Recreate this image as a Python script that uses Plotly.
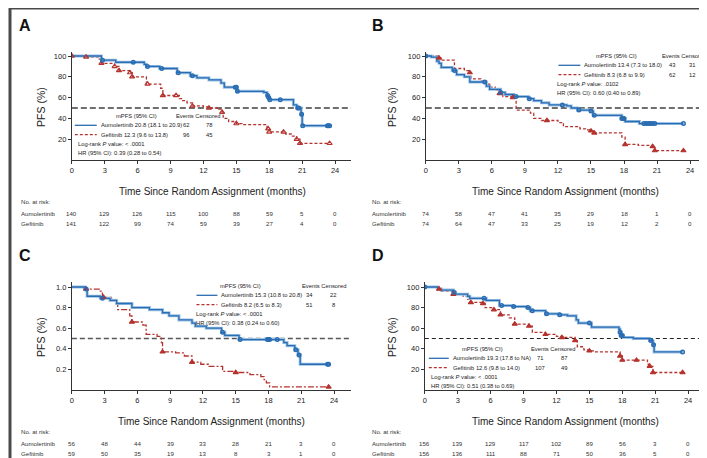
import plotly.graph_objects as go

W, H = 707, 458
BLUE = "#2a6db2"
BLUE_LIGHT = "#9cc2e5"
RED = "#b5332e"
TXT = "#222222"
FONT = "Liberation Sans, Arial, sans-serif"

month_ticks = [0, 3, 6, 9, 12, 15, 18, 21, 24]
pct_ticks = [20, 40, 60, 80, 100]
frac_ticks = [0.2, 0.4, 0.6, 0.8, 1.0]
frac_labels = ["0.2", "0.4", "0.6", "0.8", "1.0"]

# ---------------- Panel A ----------------
a_aum_t = [0, 2.7, 4.0, 6.6, 6.8, 8.0, 9.6, 10.8, 11.4, 12.5, 13.6, 13.9, 15.05, 17.5, 17.8, 17.9, 18.0, 20.2, 20.5, 20.9, 21.0, 23.5]
a_aum_s = [100, 96, 94, 92, 90, 88, 84, 81, 79, 77, 74, 70, 66, 65, 62, 60, 58, 53, 50, 44, 33, 33]
a_aum_c = [2.8, 5.6, 6.9, 8.2, 9.7, 11.0, 14.9, 15.0, 15.1, 17.85, 17.95, 18.05, 19.0, 20.6, 20.7, 20.95, 21.05, 23.3, 23.4, 23.5]
a_gef_t = [0, 1.3, 2.5, 2.7, 3.9, 4.3, 5.3, 5.5, 6.8, 8.1, 8.3, 9.8, 10.0, 10.5, 11.0, 12.0, 12.5, 13.4, 13.7, 13.8, 14.3, 15.0, 15.5, 17.8, 18.0, 19.5, 20.0, 20.5, 20.8, 23.5]
a_gef_s = [100, 99, 97, 93, 90, 86, 84, 80, 73, 69, 62, 59, 57, 55, 52, 51, 50, 49, 46, 40, 37, 35, 34, 30, 27, 25, 23, 20, 16, 16]
a_gef_c = [0, 1.3, 2.7, 3.9, 4.3, 5.3, 5.5, 6.9, 8.3, 9.5, 11.0, 12.5, 13.7, 15.0, 17.9, 18.0, 19.3, 20.5, 20.8, 23.5]
a_risk_aum = [140, 129, 126, 115, 100, 88, 59, 5, 0]
a_risk_gef = [141, 122, 99, 74, 59, 39, 27, 4, 0]
a_aum_legend = ["Aumolertinib 20.8 (18.1 to 20.9)", "62", "78"]
a_gef_legend = ["Gefitinib 12.3 (9.6 to 13.8)", "96", "45"]
a_stats = ["Log-rank <i>P</i> value: < .0001", "HR (95% CI): 0.39 (0.28 to 0.54)"]

# ---------------- Panel B ----------------
b_aum_t = [0, 0.5, 1.0, 1.2, 1.4, 2.4, 2.8, 3.5, 4.0, 5.5, 5.8, 6.8, 7.2, 8.0, 9.3, 9.8, 10.5, 11.2, 12.8, 13.2, 13.8, 15.0, 15.2, 17.8, 18.1, 19.4, 23.4]
b_aum_s = [100, 99, 95, 93, 89, 86, 82, 80, 75, 71, 68, 65, 63, 61, 59, 57, 55, 53, 52, 50, 48, 47, 43, 40, 37, 35, 35]
b_aum_c = [0, 2.6, 5.35, 6.8, 8.2, 9.4, 12.4, 13.9, 15.0, 15.3, 17.8, 17.9, 18.0, 19.8, 20.0, 20.2, 20.4, 20.6, 20.8, 23.4]
b_gef_t = [0, 1.2, 1.5, 2.6, 3.5, 4.0, 4.1, 5.0, 5.5, 5.8, 6.3, 6.7, 7.0, 7.8, 8.2, 9.5, 9.8, 10.5, 12.0, 12.5, 14.0, 14.5, 15.0, 15.2, 17.8, 18.1, 19.3, 20.6, 20.8, 23.4]
b_gef_s = [100, 98, 96, 88, 86, 84, 78, 76, 73, 70, 67, 64, 61, 60, 48, 45, 40, 38, 36, 32, 30, 29, 28, 26, 22, 15, 14, 13, 9, 9]
b_gef_c = [1.2, 4.0, 6.7, 7.9, 11.0, 15.0, 15.3, 18.1, 20.6, 20.8, 23.4]
b_risk_aum = [74, 58, 47, 41, 35, 29, 18, 1, 0]
b_risk_gef = [74, 64, 47, 33, 25, 19, 12, 2, 0]
b_aum_legend = ["Aumolertinib 13.4 (7.3 to 18.0)", "43", "31"]
b_gef_legend = ["Gefitinib 8.3 (6.8 to 9.9)", "62", "12"]
b_stats = ["Log-rank <i>P</i> value: .0102", "HR (95% CI): 0.60 (0.40 to 0.89)"]

# ---------------- Panel C ----------------
c_aum_t = [0, 1.2, 1.4, 2.6, 3.5, 4.1, 5.5, 7.1, 8.3, 8.9, 9.8, 11.0, 11.3, 12.3, 13.7, 14.0, 15.3, 19.4, 19.7, 20.4, 20.7, 20.9, 23.5]
c_aum_s = [1.0, 0.98, 0.91, 0.89, 0.87, 0.84, 0.80, 0.78, 0.75, 0.72, 0.68, 0.65, 0.62, 0.60, 0.56, 0.53, 0.49, 0.46, 0.43, 0.39, 0.34, 0.25, 0.25]
c_aum_c = [1.3, 2.8, 13.8, 15.4, 17.9, 18.0, 18.1, 18.8, 20.5, 20.8, 23.4, 23.5]
c_gef_t = [0, 1.2, 2.5, 2.8, 3.6, 4.0, 4.2, 5.3, 5.5, 6.5, 6.8, 7.8, 8.2, 8.3, 9.5, 10.3, 11.0, 11.8, 12.5, 13.8, 15.0, 16.3, 17.3, 17.6, 17.8, 18.1, 23.5]
c_gef_s = [1.0, 0.98, 0.96, 0.90, 0.88, 0.84, 0.78, 0.72, 0.66, 0.63, 0.54, 0.52, 0.46, 0.37, 0.36, 0.33, 0.27, 0.25, 0.23, 0.18, 0.17, 0.15, 0.13, 0.10, 0.07, 0.03, 0.03]
c_gef_c = [1.3, 2.9, 5.5, 8.3, 11.0, 15.0, 23.5]
c_risk_aum = [56, 48, 44, 39, 33, 28, 21, 3, 0]
c_risk_gef = [59, 50, 35, 19, 13, 8, 3, 1, 0]
c_aum_legend = ["Aumolertinib 15.3 (10.8 to 20.8)", "34", "22"]
c_gef_legend = ["Gefitinib 8.2 (6.5 to 8.3)", "51", "8"]
c_stats = ["Log-rank <i>P</i> value: < .0001", "HR (95% CI): 0.38 (0.24 to 0.60)"]

# ---------------- Panel D ----------------
d_aum_t = [0, 1.2, 1.5, 2.6, 2.8, 3.9, 4.1, 5.6, 6.8, 8.0, 9.3, 9.6, 11.0, 12.2, 13.0, 13.8, 14.0, 15.2, 17.7, 17.8, 17.9, 18.1, 19.0, 20.5, 20.8, 20.9, 23.5]
d_aum_s = [100, 98, 97, 95, 93, 91, 89, 87, 82, 81, 80, 77, 74, 73, 72, 68, 65, 61, 59, 56, 53, 51, 50, 48, 44, 37, 37]
d_aum_c = [0, 2.65, 5.4, 7.0, 8.1, 9.4, 9.8, 11.1, 12.3, 15.0, 17.8, 17.9, 18.0, 20.6, 20.85, 23.5]
d_gef_t = [0, 1.3, 1.5, 2.6, 3.5, 3.9, 4.2, 5.3, 5.5, 6.3, 6.9, 7.7, 8.2, 9.5, 9.8, 11.0, 12.0, 12.5, 13.7, 13.9, 14.5, 15.0, 15.5, 17.8, 18.0, 20.3, 20.5, 20.8, 23.5]
d_gef_s = [100, 98, 96, 93, 91, 88, 85, 84, 80, 78, 73, 70, 64, 62, 56, 54, 52, 51, 48, 42, 39, 38, 37, 33, 29, 25, 23, 17, 17]
d_gef_c = [1.3, 2.6, 4.2, 5.3, 6.3, 6.9, 8.2, 9.5, 11.0, 12.5, 13.7, 15.0, 17.8, 18.0, 19.3, 20.5, 20.8, 23.5]
d_risk_aum = [156, 139, 129, 117, 102, 89, 56, 3, 0]
d_risk_gef = [156, 136, 111, 88, 71, 50, 36, 5, 0]
d_aum_legend = ["Aumolertinib 19.3 (17.8 to NA)", "71", "87"]
d_gef_legend = ["Gefitinib 12.6 (9.8 to 14.0)", "107", "49"]
d_stats = ["Log-rank <i>P</i> value: < .0001", "HR (95% CI): 0.51 (0.38 to 0.69)"]

median_pct = 50
median_frac = 0.5


def step_value(ts, ss, t):
    v = ss[0]
    for ti, si in zip(ts, ss):
        if ti <= t + 1e-9:
            v = si
        else:
            break
    return v


# layout geometry (pixels) for each panel
panels = [
    dict(letter="A", sfx="", x0=62, x24=326, xend=342, yb=152, yt=44, yfull=48, full=100,
         data=(a_aum_t, a_aum_s, a_aum_c, a_gef_t, a_gef_s, a_gef_c),
         risk=(a_risk_aum, a_risk_gef), leg=(a_aum_legend, a_gef_legend, a_stats),
         L=dict(hx=127, ex=189, y=108, lx0=65, lx1=87, tx=89, c1=177, c2=200, sx=66),
         ry=(193, 205, 215), title=(203, 183), pfs=(31, 99), lab=(15, 17), rx=9,
         tri="triangle-up-open", gdash="3px,2px", mcol="#6f6f6f", mw=2.0, mdash="6px,3px"),
    dict(letter="B", sfx="2", x0=417, x24=682, xend=698, yb=152, yt=44, yfull=48, full=100,
         data=(b_aum_t, b_aum_s, b_aum_c, b_gef_t, b_gef_s, b_gef_c),
         risk=(b_risk_aum, b_risk_gef), leg=(b_aum_legend, b_gef_legend, b_stats),
         L=dict(hx=608, ex=676, y=48, lx0=550, lx1=572, tx=574, c1=664, c2=684, sx=547),
         ry=(193, 205, 215), title=(557, 183), pfs=(383, 99), lab=(369, 17), rx=361,
         tri="triangle-up", gdash="3px,2px", mcol="#6f6f6f", mw=2.0, mdash="6px,3px"),
    dict(letter="C", sfx="3", x0=62, x24=325, xend=342, yb=382, yt=274, yfull=279, full=1.0,
         data=(c_aum_t, c_aum_s, c_aum_c, c_gef_t, c_gef_s, c_gef_c),
         risk=(c_risk_aum, c_risk_gef), leg=(c_aum_legend, c_gef_legend, c_stats),
         L=dict(hx=231, ex=315, y=278, lx0=187, lx1=208, tx=210, c1=300, c2=324, sx=185),
         ry=(423, 435, 445), title=(202, 413), pfs=(31, 329), lab=(15, 247), rx=9,
         tri="triangle-up", gdash="6px,2px,2px,2px", mcol="#555555", mw=1.5, mdash="5px,3px"),
    dict(letter="D", sfx="4", x0=416, x24=680, xend=697, yb=382, yt=274, yfull=279, full=100,
         data=(d_aum_t, d_aum_s, d_aum_c, d_gef_t, d_gef_s, d_gef_c),
         risk=(d_risk_aum, d_risk_gef), leg=(d_aum_legend, d_gef_legend, d_stats),
         L=dict(hx=474, ex=545, y=341, lx0=420, lx1=440, tx=442, c1=532, c2=556, sx=420),
         ry=(423, 435, 445), title=(557, 413), pfs=(383, 329), lab=(369, 247), rx=361,
         tri="triangle-up", gdash="3px,2px", mcol="#222222", mw=1.2, mdash="4px,3px"),
]


def px(x):
    return x / W


def py(y):
    return 1 - y / H


def ann(x, y, text, font, xanchor="center", xref="paper", **kw):
    d = dict(x=x, y=y, xref=xref, yref="paper", text=text, showarrow=False,
             xanchor=xanchor, yanchor="middle", font=font)
    d.update(kw)
    return d


fig = go.Figure()
annotations = []
shapes = []
layout_axes = {}

for p in panels:
    sfx = p["sfx"]
    xa, ya = "x" + sfx, "y" + sfx
    aum_t, aum_s, aum_c, gef_t, gef_s, gef_c = p["data"]
    xmax = (p["xend"] - p["x0"]) / (p["x24"] - p["x0"]) * 24
    ymax = p["full"] * (p["yb"] - p["yt"]) / (p["yb"] - p["yfull"])
    is_frac = p["full"] == 1.0

    fig.add_trace(go.Scatter(x=gef_t, y=gef_s, mode="lines", line_shape="hv",
                             line=dict(color=RED, width=1.3, dash=p["gdash"]),
                             xaxis=xa, yaxis=ya, showlegend=False, hoverinfo="skip"))
    # light halo under the blue curve (as in the original print)
    fig.add_trace(go.Scatter(x=aum_t, y=aum_s, mode="lines", line_shape="hv",
                             line=dict(color=BLUE_LIGHT, width=3),
                             xaxis=xa, yaxis=ya, showlegend=False, hoverinfo="skip"))
    fig.add_trace(go.Scatter(x=aum_t, y=aum_s, mode="lines", line_shape="hv",
                             line=dict(color=BLUE, width=1.3),
                             xaxis=xa, yaxis=ya, showlegend=False, hoverinfo="skip"))
    fig.add_trace(go.Scatter(x=gef_c, y=[step_value(gef_t, gef_s, t) for t in gef_c],
                             mode="markers",
                             marker=dict(symbol=p["tri"], size=4.5, color=RED,
                                         line=dict(color=RED, width=1.2)),
                             xaxis=xa, yaxis=ya, showlegend=False, hoverinfo="skip"))
    fig.add_trace(go.Scatter(x=aum_c, y=[step_value(aum_t, aum_s, t) for t in aum_c],
                             mode="markers",
                             marker=dict(symbol="circle-open", size=3.5, color=BLUE,
                                         line=dict(color=BLUE, width=1.5)),
                             xaxis=xa, yaxis=ya, showlegend=False, hoverinfo="skip"))

    # median reference line
    mv = median_frac if is_frac else median_pct
    shapes.append(dict(type="line", xref=xa, yref=ya, x0=0, x1=xmax, y0=mv, y1=mv,
                       line=dict(color=p["mcol"], width=p["mw"], dash=p["mdash"]), layer="below"))

    xkey = "xaxis" + sfx
    ykey = "yaxis" + sfx
    layout_axes[xkey] = dict(domain=[px(p["x0"]), px(p["xend"])], range=[0, xmax], anchor=ya,
                             tickvals=month_ticks, ticks="outside", ticklen=3, tickwidth=1,
                             tickcolor="#333", showline=True, linecolor="#333", linewidth=1,
                             showgrid=False, zeroline=False, fixedrange=True,
                             tickfont=dict(size=7.5, color=TXT, family=FONT))
    layout_axes[ykey] = dict(domain=[py(p["yb"]), py(p["yt"])], range=[0, ymax], anchor=xa,
                             tickvals=frac_ticks if is_frac else pct_ticks,
                             ticktext=frac_labels if is_frac else [str(v) for v in pct_ticks],
                             ticks="outside", ticklen=3, tickwidth=1, tickcolor="#333",
                             showline=True, linecolor="#333", linewidth=1,
                             showgrid=False, zeroline=False, fixedrange=True,
                             tickfont=dict(size=7.5, color=TXT, family=FONT))

    # panel letter and axis titles
    annotations.append(ann(px(p["lab"][0]), py(p["lab"][1]), "<b>%s</b>" % p["letter"],
                           dict(size=16, color="#111", family=FONT)))
    annotations.append(ann(px(p["title"][0]), py(p["title"][1]),
                           "Time Since Random Assignment (months)",
                           dict(size=10, color=TXT, family=FONT)))
    annotations.append(ann(px(p["pfs"][0]), py(p["pfs"][1]), "PFS (%)",
                           dict(size=10.5, color=TXT, family=FONT), textangle=-90))

    # legend block
    L = p["L"]
    aum_leg, gef_leg, stats = p["leg"]
    lf = dict(size=5.8, color=TXT, family=FONT)
    annotations.append(ann(px(L["hx"]), py(L["y"]), "mPFS (95% CI)", lf))
    annotations.append(ann(px(L["ex"]), py(L["y"]), "Events Censored", lf))
    for k, (row, col, dash) in enumerate([(aum_leg, BLUE, "solid"), (gef_leg, RED, "3px,2px")]):
        yy = L["y"] + 9.3 * (k + 1)
        shapes.append(dict(type="line", xref="paper", yref="paper",
                           x0=px(L["lx0"]), x1=px(L["lx1"]), y0=py(yy), y1=py(yy),
                           line=dict(color=col, width=1.3, dash=dash)))
        annotations.append(ann(px(L["tx"]), py(yy), row[0], lf, xanchor="left"))
        annotations.append(ann(px(L["c1"]), py(yy), row[1], lf))
        annotations.append(ann(px(L["c2"]), py(yy), row[2], lf))
    for k, s in enumerate(stats):
        yy = L["y"] + 9.3 * (k + 3)
        annotations.append(ann(px(L["sx"]), py(yy), s, lf, xanchor="left"))

    # number at risk table
    rf = dict(size=6.1, color="#333", family=FONT)
    lx = p["rx"]
    annotations.append(ann(px(lx), py(p["ry"][0]), "No. at risk:", rf, xanchor="left"))
    for name, vals, yy in [("Aumolertinib", p["risk"][0], p["ry"][1]),
                           ("Gefitinib", p["risk"][1], p["ry"][2])]:
        annotations.append(ann(px(lx), py(yy), name, rf, xanchor="left"))
        for t, v in zip(month_ticks, vals):
            annotations.append(ann(t, py(yy), str(v), rf, xref=xa))

# outer frame
shapes.append(dict(type="rect", xref="paper", yref="paper", x0=0, x1=1, y0=0, y1=1,
                   line=dict(color="#4a4a4a", width=3), fillcolor="rgba(0,0,0,0)"))

fig.update_layout(width=W, height=H, autosize=False,
                  margin=dict(l=0, r=0, t=0, b=0, pad=0),
                  paper_bgcolor="white", plot_bgcolor="white",
                  showlegend=False, annotations=annotations, shapes=shapes,
                  font=dict(family=FONT, color=TXT),
                  **layout_axes)

fig.write_html("out.html", config=dict(displayModeBar=False))
